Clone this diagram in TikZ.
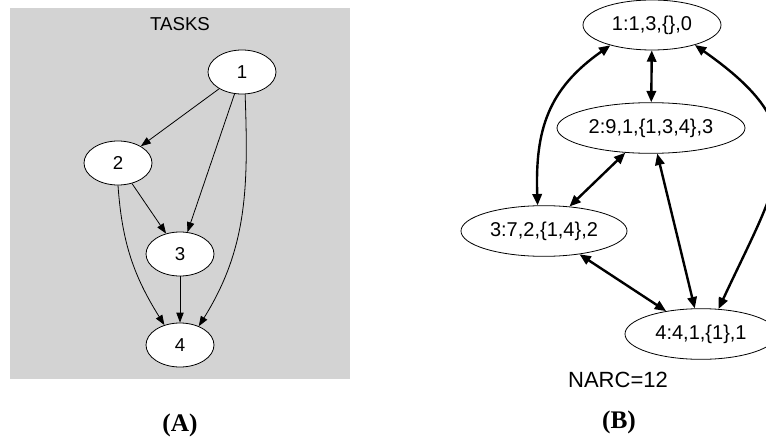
\documentclass[tikz,border=0pt]{standalone}
\usepackage{fontspec}
\setmainfont{Liberation Serif}
\setsansfont{Liberation Sans}
\usetikzlibrary{shapes.geometric, arrows.meta}

\tikzset{
  task/.style={ellipse, draw, fill=white, line width=0.6pt, inner sep=0pt,
    minimum width=51pt, minimum height=33pt, font=\sffamily\fontsize{14}{16}\selectfont},
  state/.style={ellipse, draw, fill=white, line width=0.6pt, inner sep=0pt,
    minimum height=38pt, font=\sffamily\fontsize{15}{18}\selectfont},
  dep/.style={line width=0.6pt, -{Triangle[length=7.5pt,width=5.5pt]}},
  arc/.style={line width=1.8pt, {Triangle[length=8.5pt,width=7pt]}-{Triangle[length=8.5pt,width=7pt]}},
  caption/.style={font=\bfseries\fontsize{19}{21}\selectfont}
}

\begin{document}
\begin{tikzpicture}[x=0.75pt,y=0.75pt,yscale=-1,xscale=1]
    \useasboundingbox (0,0) rectangle (766,442);

    %Shape: Rectangle [cluster TASKS]
    \fill [color={rgb, 255:red, 211; green, 211; blue, 211 }] (10,8) rectangle (350,379);
    % Text Node
    \node (tasks) at (180,24) [font=\sffamily\fontsize{14}{16}\selectfont] {TASKS};

    % Task nodes
    \node [task] (t1) at (242,72) {1};
    \node [task] (t2) at (118,163) {2};
    \node [task] (t3) at (180,254) {3};
    \node [task] (t4) at (180,345) {4};

    % Precedence edges (yscale=-1: out/in angles are mirrored)
    \draw [dep] (t1) -- (t2);
    \draw [dep] (t1) -- (t3);
    \draw [dep] (t1.278) to [out=88, in=-58] (t4.45);
    \draw [dep] (t2) -- (t3);
    \draw [dep] (t2.270) to [out=86, in=-122] (t4.128);
    \draw [dep] (t3) -- (t4);

    % State nodes
    \node [state, minimum width=103.5pt, minimum height=37.5pt] (s1) at (652,25) {1:1,3,\{\},0};
    \node [state, minimum width=141pt] (s2) at (651,128) {2:9,1,\{1,3,4\},3};
    \node [state, minimum width=124.5pt] (s3) at (544,231) {3:7,2,\{1,4\},2};
    \node [state, minimum width=114pt] (s4) at (701,334) {4:4,1,\{1\},1};

    % Arcs
    \draw [arc] (s1) -- (s2);
    \draw [arc] (s1.206) to [out=145, in=-92, looseness=1.1] (s3.104);
    \draw [arc] (s1.335) to [out=35, in=-65, looseness=1.45] (s4.55);
    \draw [arc] (s2) -- (s3);
    \draw [arc] (s2) -- (s4);
    \draw [arc] (s3) -- (s4);

    % Text Node
    \node (narc) at (618,380) [font=\sffamily\fontsize{16.5}{19}\selectfont] {NARC=12};
    % Text Node
    \node [caption] (capA) at (180,425) {(A)};
    % Text Node
    \node [caption] (capB) at (619,422) {(B)};

\end{tikzpicture}
\end{document}
